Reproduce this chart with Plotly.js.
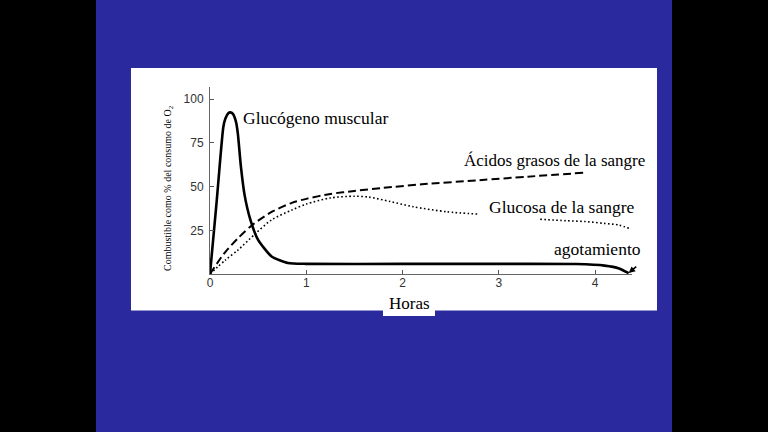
<!DOCTYPE html>
<html>
<head>
<meta charset="utf-8">
<script src="https://cdn.plot.ly/plotly-3.0.1.min.js"></script>
<style>
html,body{margin:0;padding:0;background:#000;}
#chart{width:768px;height:432px;}
</style>
</head>
<body>
<div id="chart"></div>
<script>
// ---- data ----
const hoursGlycogen = [0, 0.07, 0.138, 0.16, 0.19, 0.21, 0.24, 0.27, 0.29, 0.32, 0.36, 0.42, 0.5, 0.64, 0.81, 1.0, 2.0, 3.0, 3.8, 4.1, 4.25, 4.35];
const glycogen      = [0, 42, 84, 89, 92, 92.5, 91.5, 87, 80, 62, 45, 31, 19.5, 10, 6.3, 5.8, 5.8, 5.8, 5.7, 4.8, 3.2, 0.5];

const hoursFat   = [0, 0.15, 0.3, 0.45, 0.64, 0.85, 1.0, 1.25, 1.5, 1.8, 2.2, 2.8, 3.3, 3.9];
const fattyAcids = [0, 12, 21, 28.5, 35.5, 40.7, 43, 45.8, 47.5, 49.3, 51.3, 53.7, 55.7, 58];

const hoursGlucose = [0, 0.16, 0.29, 0.47, 0.64, 0.85, 1.0, 1.25, 1.5, 1.65, 1.87, 2.11, 2.46, 2.78, 3.1, 3.43, 3.7, 3.9, 4.09, 4.25, 4.36];
const glucose      = [0, 8, 13.7, 23, 31, 36.6, 40, 43.5, 44.5, 44, 41.5, 38.5, 35.6, 34.3, null, 31.3, 30.5, 30, 29, 28, 26];

const xTickVals = [0, 1, 2, 3, 4];
const xTickText = ['0', '1', '2', '3', '4'];
const yTickVals = [25, 50, 75, 100];
const yTickText = ['25', '50', '75', '100'];

const labelGlycogen = 'Glucógeno muscular';
const labelFat = 'Ácidos grasos de la sangre';
const labelGlucose = 'Glucosa de la sangre';
const labelExhaustion = 'agotamiento';
const xTitle = 'Horas';
const yTitle = 'Combustible como % del consumo de O<sub>2</sub>';

// ---- layout geometry (pixels) ----
const W = 768, H = 432;
const M = {l: 210, r: 136, t: 87, b: 158};
const plotW = W - M.l - M.r, plotH = H - M.t - M.b;
const px = x => (x - M.l) / plotW;          // pixel x -> paper x
const py = y => (H - M.b - y) / plotH;      // pixel y -> paper y
const serif = 'Liberation Serif, Times New Roman, serif';
const sans = 'Liberation Sans, Arial, sans-serif';

function rect(x0, y0, x1, y1, color) {
  return {type: 'rect', xref: 'paper', yref: 'paper', layer: 'below',
          x0: px(x0), x1: px(x1), y0: py(y1), y1: py(y0),
          fillcolor: color, line: {width: 0}};
}

const traces = [
  {x: hoursGlycogen, y: glycogen, type: 'scatter', mode: 'lines', name: labelGlycogen,
   line: {color: '#000', width: 2.6, shape: 'spline', smoothing: 0.55}, cliponaxis: false},
  {x: hoursFat, y: fattyAcids, type: 'scatter', mode: 'lines', name: labelFat,
   line: {color: '#000', width: 2, dash: '8px,4px', shape: 'spline', smoothing: 0.8}},
  {x: hoursGlucose, y: glucose, type: 'scatter', mode: 'lines', name: labelGlucose, connectgaps: false,
   line: {color: '#000', width: 1.6, dash: '1.6px,2.4px', shape: 'spline', smoothing: 0.8}}
];

const ann = (text, x, y, extra) => Object.assign({
  text: text, x: x, y: y, xref: 'x', yref: 'y', showarrow: false,
  xanchor: 'left', yanchor: 'middle', font: {family: serif, size: 17.5, color: '#000'}
}, extra || {});

const layout = {
  width: W, height: H,
  margin: M,
  paper_bgcolor: '#000',
  plot_bgcolor: '#fff',
  showlegend: false,
  font: {family: sans},
  xaxis: {range: [0, plotW / 96.25], tickvals: xTickVals, ticktext: xTickText,
          ticks: 'inside', ticklen: 4, tickcolor: '#555', showline: true, linecolor: '#666', linewidth: 1,
          showgrid: false, zeroline: false, ticklabelstandoff: -2,
          tickfont: {family: sans, size: 12, color: '#333'}, fixedrange: true},
  yaxis: {range: [0, 107], tickvals: yTickVals, ticktext: yTickText,
          ticks: 'inside', ticklen: 4, tickcolor: '#555', showline: true, linecolor: '#666', linewidth: 1,
          showgrid: false, zeroline: false, ticklabelstandoff: 3,
          tickfont: {family: sans, size: 12, color: '#333'}, fixedrange: true},
  shapes: [
    rect(96, 0, 672, 432, '#2a2a9e'),
    rect(131, 68, 657, 310.5, '#ffffff'),
    rect(383, 300, 435, 316, '#ffffff')
  ],
  annotations: [
    ann(labelGlycogen, 0.322, 89.1),
    ann(labelFat, 2.618, 64.7, {font: {family: serif, size: 17, color: '#000'}}),
    ann(labelGlucose, 2.873, 38.3),
    {text: labelExhaustion, x: 4.35, y: 0.6, xref: 'x', yref: 'y', showarrow: true,
     ax: 14.5, ay: -12, xanchor: 'right', yanchor: 'bottom', startstandoff: 9,
     arrowhead: 2, arrowsize: 0.8, arrowwidth: 1.6, arrowcolor: '#000',
     font: {family: serif, size: 17.5, color: '#000'}},
    {text: xTitle, x: px(409), y: py(303), xref: 'paper', yref: 'paper',
     showarrow: false, xanchor: 'center', yanchor: 'middle', font: {family: serif, size: 17, color: '#000'}},
    {text: yTitle, x: px(168), y: py(188), xref: 'paper', yref: 'paper', textangle: -90,
     showarrow: false, xanchor: 'center', yanchor: 'middle', font: {family: serif, size: 10, color: '#000'}}
  ]
};

Plotly.newPlot('chart', traces, layout, {displayModeBar: false, staticPlot: true});
</script>
</body>
</html>
